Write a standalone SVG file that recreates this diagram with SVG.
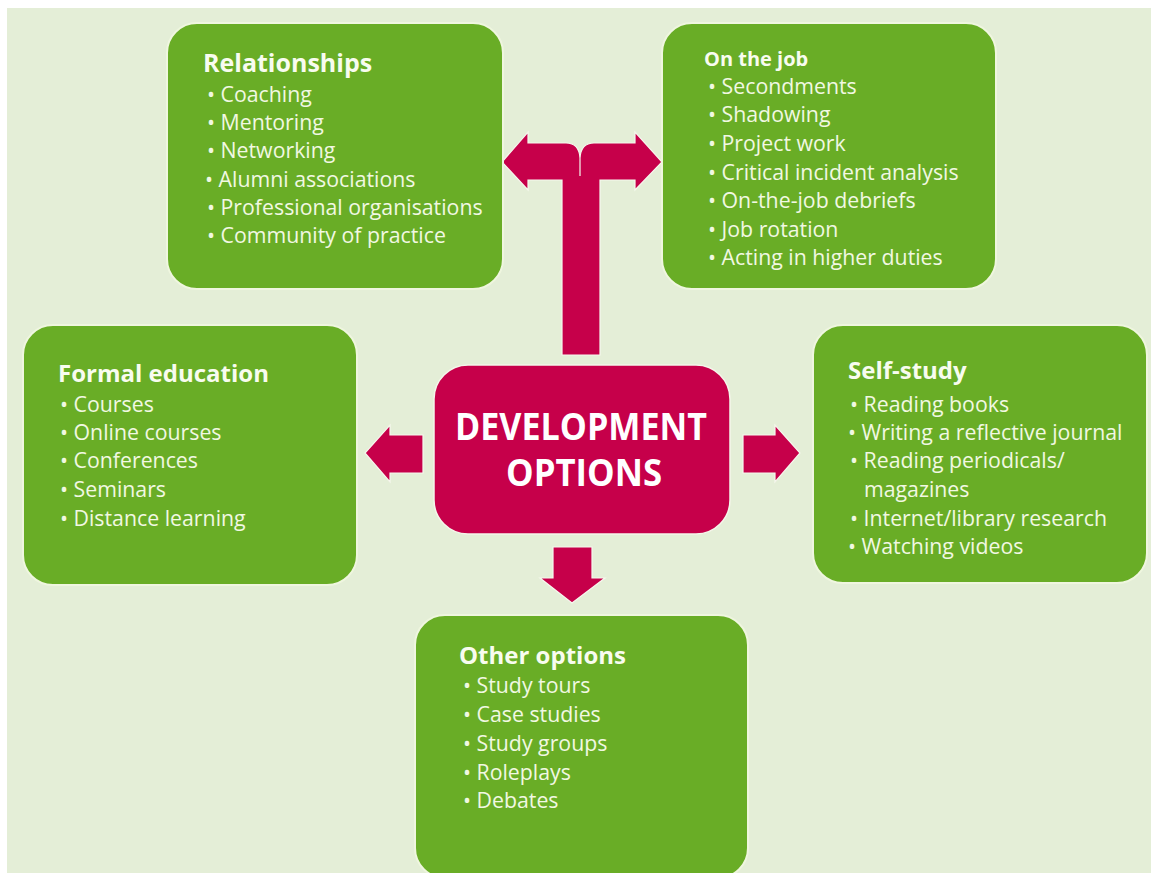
<svg xmlns="http://www.w3.org/2000/svg" width="1151" height="873" viewBox="0 0 1151 873">
  <style>
    .box { fill: #69ad26; stroke: #eff6df; stroke-width: 2; }
    .hub { fill: #c6004a; stroke: #f4f6ea; stroke-width: 1.5; }
    .arrow { fill: #c6004a; stroke: #f6f8ee; stroke-width: 1.2; stroke-linejoin: miter; }
    .title { font-family: "Open Sans", "Liberation Sans", sans-serif; font-weight: 700; font-size: 24px; fill: #f8fcef; }
    .title-lg { font-size: 25px; }
    .title-sm { font-size: 20px; }
    .item { font-family: "Open Sans", "Liberation Sans", sans-serif; font-size: 21.3px; fill: #f1f8e2; }
    .hub-text { font-family: "Open Sans", "Liberation Sans", sans-serif; font-weight: 700; font-size: 37px; fill: #ffffff; }
  </style>

  <!-- page -->
  <rect x="0" y="0" width="1151" height="873" fill="#ffffff"/>
  <rect x="7" y="8" width="1144" height="865" fill="#e4eed7"/>

  <!-- connectors -->
  <g id="connectors">
    <path class="arrow" d="M562,355 V180 H528 V190 L502,162 L528,132 V143 H566 Q579,143 580,158 V176 V158 Q581,143 594,143 H635 V132 L662,162 L635,190 V180 H600 V355 Z"/>
    <path class="arrow" d="M423,435 H390 V425 L365,453 L390,482 V473 H423 Z"/>
    <path class="arrow" d="M743,435 H775 V425 L800,453 L775,482 V473 H743 Z"/>
    <path class="arrow" d="M553,547 H592 V578 H605 L572,603 L540,578 H553 Z"/>
  </g>

  <!-- centre -->
  <g id="development-options">
    <rect class="hub" x="434" y="365" width="296" height="169" rx="34"/>
    <text class="hub-text" x="455" y="440" textLength="252" lengthAdjust="spacingAndGlyphs">DEVELOPMENT</text>
    <text class="hub-text" x="506" y="486" textLength="156" lengthAdjust="spacingAndGlyphs">OPTIONS</text>
  </g>

  <g id="relationships">
    <rect class="box" x="167" y="23" width="336" height="266" rx="30"/>
    <text class="title title-lg" x="203" y="72">Relationships</text>
    <text class="item" x="207" y="102">• Coaching</text>
    <text class="item" x="207" y="130">• Mentoring</text>
    <text class="item" x="207" y="158">• Networking</text>
    <text class="item" x="205" y="187">• Alumni associations</text>
    <text class="item" x="207" y="215">• Professional organisations</text>
    <text class="item" x="207" y="243">• Community of practice</text>
  </g>

  <g id="on-the-job">
    <rect class="box" x="662" y="23" width="334" height="266" rx="30"/>
    <text class="title title-sm" x="704" y="66">On the job</text>
    <text class="item" x="708" y="94">• Secondments</text>
    <text class="item" x="708" y="122">• Shadowing</text>
    <text class="item" x="708" y="151">• Project work</text>
    <text class="item" x="708" y="180">• Critical incident analysis</text>
    <text class="item" x="708" y="208">• On-the-job debriefs</text>
    <text class="item" x="708" y="237">• Job rotation</text>
    <text class="item" x="708" y="265">• Acting in higher duties</text>
  </g>

  <g id="formal-education">
    <rect class="box" x="23" y="325" width="334" height="260" rx="30"/>
    <text class="title" x="58" y="382">Formal education</text>
    <text class="item" x="60" y="412">• Courses</text>
    <text class="item" x="60" y="440">• Online courses</text>
    <text class="item" x="60" y="468">• Conferences</text>
    <text class="item" x="60" y="497">• Seminars</text>
    <text class="item" x="60" y="526">• Distance learning</text>
  </g>

  <g id="self-study">
    <rect class="box" x="813" y="325" width="334" height="258" rx="30"/>
    <text class="title" x="848" y="379">Self-study</text>
    <text class="item" x="850" y="412">• Reading books</text>
    <text class="item" x="848" y="440">• Writing a reflective journal</text>
    <text class="item" x="850" y="468">• Reading periodicals/</text>
    <text class="item" x="864" y="497">magazines</text>
    <text class="item" x="850" y="526">• Internet/library research</text>
    <text class="item" x="848" y="554">• Watching videos</text>
  </g>

  <g id="other-options">
    <rect class="box" x="415" y="615" width="333" height="263" rx="30"/>
    <text class="title" x="459" y="664">Other options</text>
    <text class="item" x="463" y="693">• Study tours</text>
    <text class="item" x="463" y="722">• Case studies</text>
    <text class="item" x="463" y="751">• Study groups</text>
    <text class="item" x="463" y="780">• Roleplays</text>
    <text class="item" x="463" y="808">• Debates</text>
  </g>
</svg>
